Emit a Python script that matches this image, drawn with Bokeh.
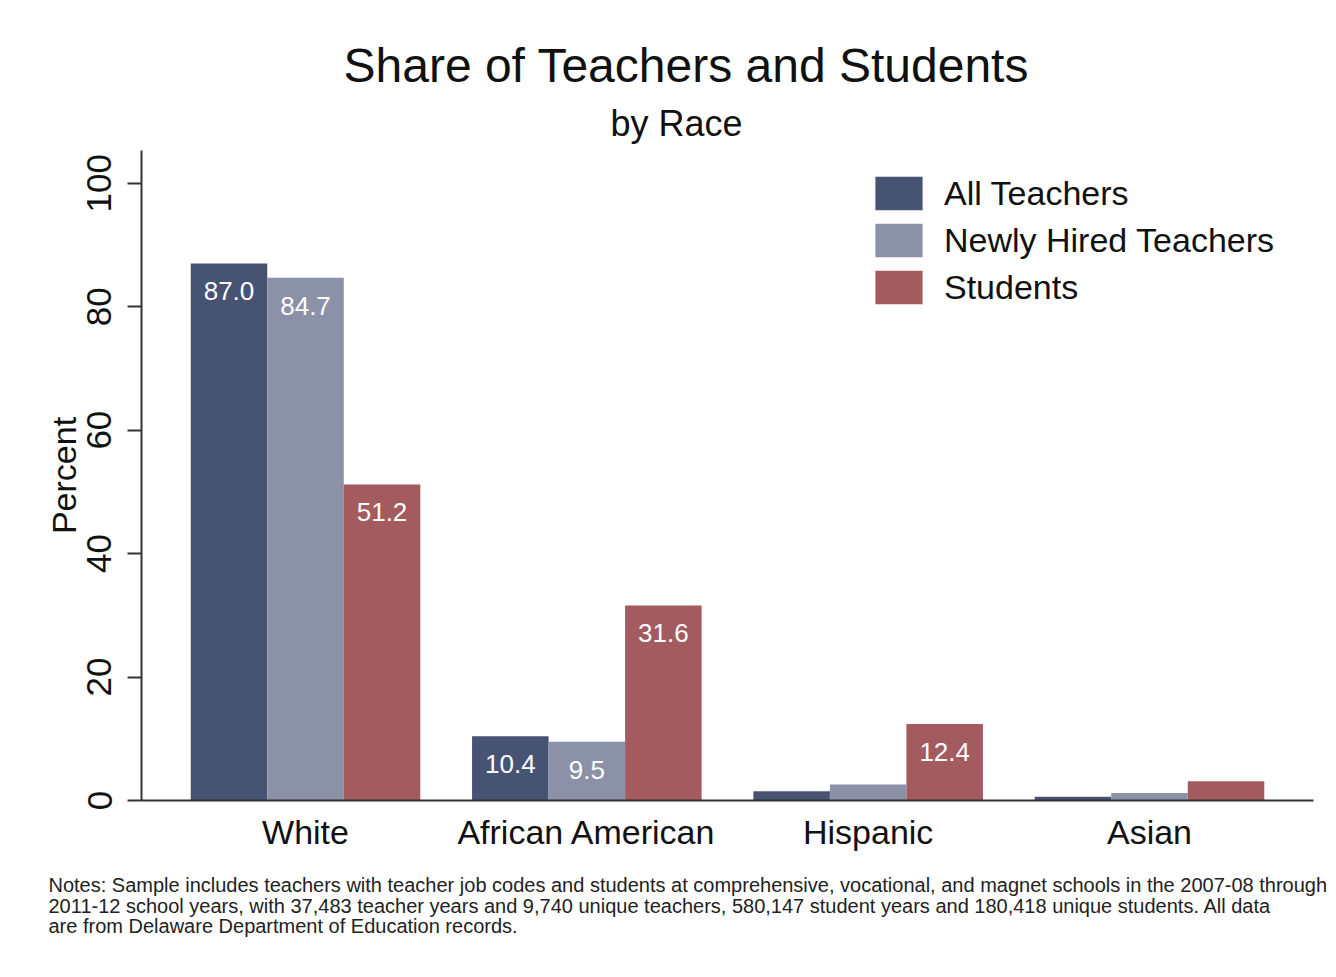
from bokeh.plotting import figure
from bokeh.models import (FactorRange, Range1d, Legend, LegendItem, Title,
                          ColumnDataSource, FixedTicker)
from bokeh.core.properties import value
from bokeh.transform import dodge
from bokeh.embed import file_html
from bokeh.resources import INLINE

# ---- data ----
races = ["White", "African American", "Hispanic", "Asian"]
series_names = ["All Teachers", "Newly Hired Teachers", "Students"]
all_teachers = [87.0, 10.4, 1.5, 0.6]
newly_hired = [84.7, 9.5, 2.6, 1.2]
students = [51.2, 31.6, 12.4, 3.1]
colors = ["#475373", "#8b91a6", "#a45b60"]
y_ticks = [0, 20, 40, 60, 80, 100]
title_text = "Share of Teachers and Students"
subtitle_text = "by Race"
y_label = "Percent"
notes = [
    "Notes: Sample includes teachers with teacher job codes and students at comprehensive, vocational, and magnet schools in the 2007-08 through",
    "2011-12 school years, with 37,483 teacher years and 9,740 unique teachers, 580,147 student years and 180,418 unique students. All data",
    "are from Delaware Department of Education records.",
]

FONT = "Liberation Sans"
BAR_W = 0.272

p = figure(x_range=FactorRange(factors=races, range_padding=0.0415),
           y_range=Range1d(0, 105.3),
           width=1336, height=970,
           output_backend="svg", toolbar_location=None,
           min_border_left=141, min_border_right=23,
           min_border_top=150, min_border_bottom=170)
p.outline_line_color = None
p.background_fill_color = "white"
p.border_fill_color = "white"
p.xgrid.grid_line_color = None
p.ygrid.grid_line_color = None

series_vals = [all_teachers, newly_hired, students]
offsets = [-BAR_W, 0.0, BAR_W]
items = []
for name, vals, col, off in zip(series_names, series_vals, colors, offsets):
    src = ColumnDataSource(dict(race=races, value=vals))
    r = p.vbar(x=dodge("race", off, range=p.x_range), top="value", width=BAR_W,
               source=src, fill_color=col, line_color=None)
    items.append(LegendItem(label=name, renderers=[r]))
    lr = [rc for rc, v in zip(races, vals) if v >= 5]
    lv = [v for v in vals if v >= 5]
    lsrc = ColumnDataSource(dict(race=lr, value=lv, txt=["%.1f" % v for v in lv]))
    p.text(x=dodge("race", off, range=p.x_range), y="value", text="txt", source=lsrc,
           text_color="white", text_font_size="26px", text_font=value(FONT),
           text_align="center", text_baseline="middle", y_offset=28)

legend = Legend(items=items, location=(728, 492), orientation="vertical",
                label_text_font=FONT, label_text_font_size="34px",
                label_text_color="#111111",
                glyph_width=59, glyph_height=42, label_standoff=16, spacing=5,
                padding=0, margin=0, background_fill_alpha=0, border_line_alpha=0)
p.add_layout(legend, "center")

# axes
for ax in (p.xaxis, p.yaxis):
    ax.axis_line_color = "#333333"
    ax.axis_line_width = 2
    ax.major_label_text_font = FONT
    ax.major_label_text_color = "#111111"
    ax.minor_tick_line_color = None

p.xaxis.major_label_text_font_size = "34px"
p.xaxis.major_tick_line_color = None
p.xaxis.major_label_standoff = 6

p.yaxis.ticker = FixedTicker(ticks=y_ticks)
p.yaxis.major_label_text_font_size = "35px"
p.yaxis.major_label_orientation = "vertical"
p.yaxis.major_tick_out = 14
p.yaxis.major_tick_in = 0
p.yaxis.major_tick_line_color = "#333333"
p.yaxis.major_tick_line_width = 2
p.yaxis.major_label_standoff = 16
p.yaxis.axis_label = y_label
p.yaxis.axis_label_text_font = FONT
p.yaxis.axis_label_text_font_size = "34px"
p.yaxis.axis_label_text_font_style = "normal"
p.yaxis.axis_label_text_color = "#111111"
p.yaxis.axis_label_standoff = 2

# titles: main title is the outer one, subtitle sits next to the frame
p.title.text = title_text
p.title.text_font = FONT
p.title.text_font_size = "48px"
p.title.text_font_style = "normal"
p.title.text_color = "#111111"
p.title.align = "left"
p.title.offset = 202
p.title.standoff = 5
p.add_layout(Title(text=subtitle_text, text_font=FONT, text_font_size="36px",
                   text_font_style="normal", text_color="#111111",
                   align="left", offset=469, standoff=13), "above")

# notes below the x axis
p.add_layout(Title(text="\n".join(notes), text_font=FONT, text_font_size="20px",
                   text_font_style="normal", text_color="#222222",
                   text_line_height=0.94,
                   align="left", offset=-93, standoff=38), "below")

open("out.html", "w").write(file_html(p, INLINE))
